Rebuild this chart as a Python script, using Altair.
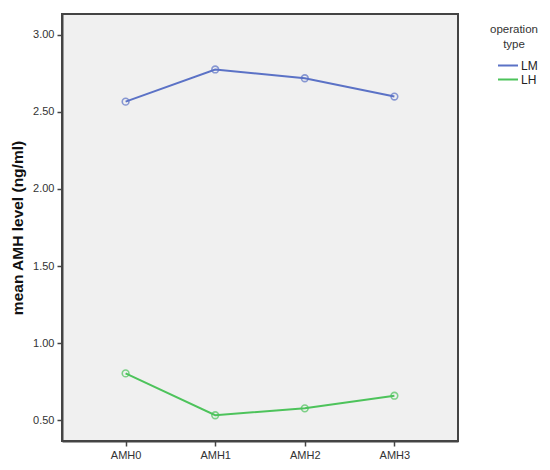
import altair as alt
import pandas as pd

categories = ["AMH0", "AMH1", "AMH2", "AMH3"]
lm_values = [2.567, 2.776, 2.719, 2.600]
lh_values = [0.803, 0.531, 0.576, 0.658]
groups = ["LM", "LH"]
colors = ["#5B72C6", "#4DC35B"]
y_ticks = [0.5, 1.0, 1.5, 2.0, 2.5, 3.0]

rows = []
for c, v in zip(categories, lm_values):
    rows.append({"time": c, "value": v, "operation type": "LM"})
for c, v in zip(categories, lh_values):
    rows.append({"time": c, "value": v, "operation type": "LH"})
df = pd.DataFrame(rows)

FONT = "Liberation Sans"
FRAME = "#444444"

x = alt.X("time:N", sort=categories, title=None,
          scale=alt.Scale(type="point", padding=0.71),
          axis=alt.Axis(labelAngle=0, labelFont=FONT, labelFontSize=11,
                        labelColor="#333333", tickColor=FRAME,
                        domain=True, domainColor=FRAME, domainWidth=2,
                        ticks=True, tickSize=5, tickWidth=1.5, labelPadding=3))
y = alt.Y("value:Q", title="mean AMH level (ng/ml)",
          scale=alt.Scale(domain=[0.364, 3.136], nice=False, zero=False),
          axis=alt.Axis(values=y_ticks, format=".2f", labelFont=FONT,
                        labelFontSize=11, labelColor="#333333",
                        tickColor=FRAME, tickSize=5, tickWidth=1.5,
                        domain=True, domainColor=FRAME, domainWidth=2,
                        grid=False, titleFont=FONT, titleFontSize=15.5,
                        titleFontWeight="bold", titleColor="#111111",
                        titlePadding=7, labelPadding=3))
color = alt.Color("operation type:N", sort=groups,
                  scale=alt.Scale(domain=groups, range=colors),
                  legend=alt.Legend(
                      title=["operation", "type"], orient="none",
                      legendX=428, legendY=10,
                      titleFont=FONT, titleFontSize=11.5, titleFontWeight="normal",
                      titleColor="#333333", titleAlign="center",
                      titleAnchor="middle", titleLineHeight=15,
                      titlePadding=8,
                      labelFont=FONT, labelFontSize=12, labelColor="#222222",
                      symbolType="stroke", symbolSize=400, symbolStrokeWidth=2,
                      symbolOffset=7, labelOffset=2, rowPadding=0,
                      clipHeight=14))

base = alt.Chart(df)
lines = base.mark_line(strokeWidth=2).encode(x=x, y=y, color=color,
                                             detail="operation type:N")
points = base.mark_point(shape="circle", filled=False, size=45,
                         strokeWidth=1.6).encode(
    x=x, y=y, color=alt.Color("operation type:N", sort=groups,
                              scale=alt.Scale(domain=groups, range=colors),
                              legend=None))

chart = alt.layer(lines, points).properties(
    width=396, height=427,
    autosize=alt.AutoSizeParams(type="none"),
    padding={"left": 54, "top": 6, "right": 84, "bottom": 21},
).configure(background="white").configure_view(
    fill="#F0F0F0", stroke=FRAME, strokeWidth=2
)

chart.save("out.html", embed_options={"renderer": "svg", "actions": False})
